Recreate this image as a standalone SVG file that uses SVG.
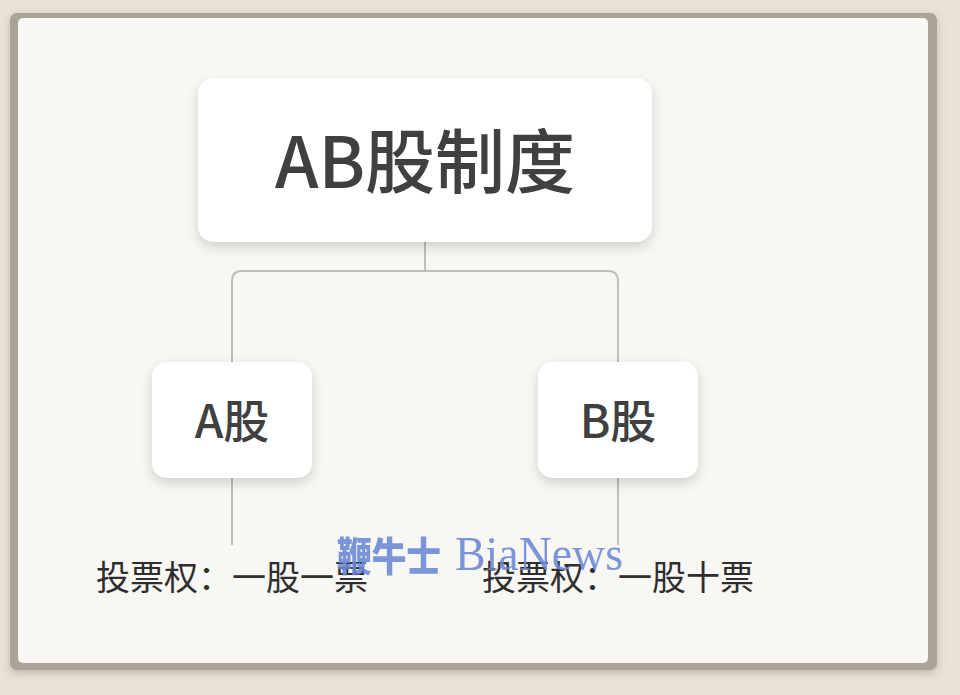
<svg xmlns="http://www.w3.org/2000/svg" width="960" height="695" viewBox="0 0 960 695">
<defs>
<filter id="sh" x="-20%" y="-20%" width="140%" height="150%">
<feDropShadow dx="0" dy="5" stdDeviation="6" flood-color="#000" flood-opacity="0.16"/>
</filter>
<filter id="fsh" x="-5%" y="-5%" width="110%" height="115%">
<feDropShadow dx="0" dy="3" stdDeviation="4" flood-color="#6b6459" flood-opacity="0.35"/>
</filter>
</defs>
<style>
.node{fill:#ffffff;filter:url(#sh);}
.lbl{font-family:"Noto Sans CJK SC","Noto Sans",sans-serif;fill:#404040;text-anchor:middle;font-weight:500;}
.conn{fill:none;stroke:#bdbdbd;stroke-width:2;}
.note{font-family:"Noto Sans CJK SC","Noto Sans",sans-serif;fill:#2e2e2e;font-size:34px;}
.wm{fill:#6a88d6;opacity:0.88;}
</style>
<rect x="0" y="0" width="960" height="695" fill="#e8e2d8"/>
<rect x="10" y="13" width="927" height="657" rx="7" fill="#aaa397" filter="url(#fsh)"/>
<rect x="18" y="18" width="910" height="645" rx="5" fill="#f8f7f3"/>
<g id="connectors">
<path class="conn" d="M425 242 V271"/>
<path class="conn" d="M232 362 V281 Q232 271 242 271 H608 Q618 271 618 281 V362"/>
<path class="conn" d="M232 478 V545"/>
<path class="conn" d="M618 478 V545"/>
</g>
<g id="node-root">
<rect class="node" x="198" y="78" width="454" height="164" rx="16"/>
<text class="lbl" x="425" y="188" font-size="70">AB股制度</text>
</g>
<g id="node-a">
<rect class="node" x="152" y="362" width="160" height="116" rx="15"/>
<text class="lbl" x="232" y="438" font-size="46">A股</text>
</g>
<g id="node-b">
<rect class="node" x="538" y="362" width="160" height="116" rx="15"/>
<text class="lbl" x="618" y="438" font-size="46">B股</text>
</g>
<g id="notes">
<text class="note" x="96" y="590">投票权：一股一票</text>
<text class="note" x="482" y="590">投票权：一股十票</text>
</g>
<g id="watermark" class="wm">
<text x="337" y="571" font-family="'Noto Sans CJK SC',sans-serif" font-weight="900" font-size="40" textLength="104" lengthAdjust="spacingAndGlyphs">鞭牛士</text>
<text x="455" y="570" font-family="'Liberation Serif',serif" font-size="48" textLength="168" lengthAdjust="spacingAndGlyphs">BiaNews</text>
</g>
</svg>
